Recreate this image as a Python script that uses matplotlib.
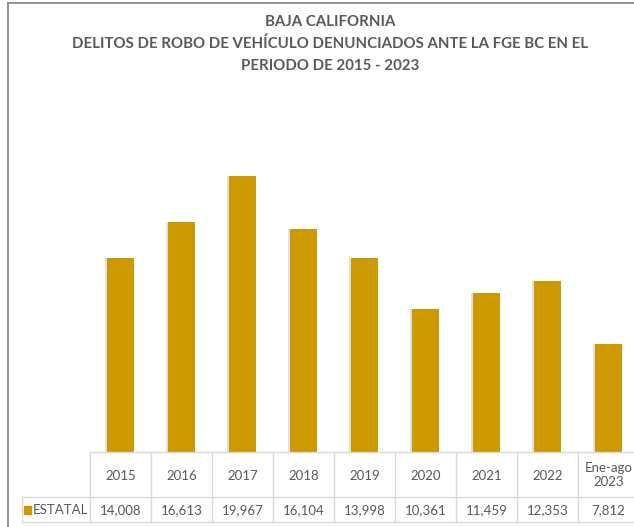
#!/usr/bin/env python3
"""Vehicle theft reports, Baja California 2015-2023, bar chart with data table."""

import matplotlib
matplotlib.use("Agg")
import matplotlib.pyplot as plt
from matplotlib.lines import Line2D
from matplotlib.patches import Rectangle

periods = ["2015", "2016", "2017", "2018", "2019", "2020", "2021", "2022", "Ene-ago\n2023"]
estatal = [14008, 16613, 19967, 16104, 13998, 10361, 11459, 12353, 7812]
series_name = "ESTATAL"
title = ("BAJA CALIFORNIA\n"
         "DELITOS DE ROBO DE VEHÍCULO DENUNCIADOS ANTE LA FGE BC EN EL\n"
         "PERIODO DE 2015 - 2023")

BAR_COLOR = "#CC9900"
TEXT_COLOR = "#595959"
GRID_COLOR = "#D9D9D9"
W, H = 634, 527

plt.rcParams["font.family"] = ["Lato", "DejaVu Sans"]

fig = plt.figure(figsize=(W / 100, H / 100), dpi=100)

# plot area in pixel coords: columns start at x=90, each 61 px wide
col_w = 61
x0, base_y, top_y = 90, 452, 106
ax = fig.add_axes([x0 / W, (H - base_y) / H, len(periods) * col_w / W, (base_y - top_y) / H])
ax.set_xlim(0, len(periods))
ax.set_ylim(0, 25000)
ax.axis("off")

xs = [i + 0.5 for i in range(len(periods))]
ax.bar(xs, estatal, width=0.45, color=BAR_COLOR, zorder=3)
# soft shadow on the left edge of the bars
ax.bar([x - 0.035 for x in xs], estatal, width=0.45, color="#000000", alpha=0.12, zorder=2)

# data table drawn in figure pixel coords
def fx(px):
    return px / W


def fy(py):
    return 1 - py / H


row1, row2, row3 = 452, 497, 522
lines = []
for i in range(len(periods) + 1):
    xp = x0 + i * col_w
    lines.append(((xp, xp), (row1, row3)))
lines.append(((22, 22), (row2, row3)))
lines.append(((x0, x0 + len(periods) * col_w), (row1, row1)))
lines.append(((22, x0 + len(periods) * col_w), (row2, row2)))
lines.append(((22, x0 + len(periods) * col_w), (row3, row3)))
for (xa, xb), (ya, yb) in lines:
    fig.add_artist(Line2D([fx(xa), fx(xb)], [fy(ya), fy(yb)], color=GRID_COLOR, lw=1.0))

for i, (p, v) in enumerate(zip(periods, estatal)):
    cx = x0 + (i + 0.5) * col_w
    fig.text(fx(cx), fy((row1 + row2) / 2 + 1), p, ha="center", va="center",
             fontsize=9.5, color=TEXT_COLOR, linespacing=1.2)
    fig.text(fx(cx), fy((row2 + row3) / 2 + 1), f"{v:,}", ha="center", va="center",
             fontsize=9.5, color=TEXT_COLOR)

fig.add_artist(Rectangle((fx(24), fy(514)), 7 / W, 8 / H, color=BAR_COLOR, transform=fig.transFigure))
fig.text(fx(33), fy((row2 + row3) / 2 + 1), series_name, ha="left", va="center",
         fontsize=9.5, color=TEXT_COLOR)

# outer chart frame (left and top edges)
fig.add_artist(Line2D([fx(8), fx(8)], [fy(3), fy(527)], color="#7F7F7F", lw=1.2))
fig.add_artist(Line2D([fx(8), fx(634)], [fy(3), fy(3)], color="#7F7F7F", lw=1.2))

fig.text(fx(330), fy(44), title, ha="center", va="center", fontsize=10.8,
         fontweight="bold", color=TEXT_COLOR, linespacing=1.7)

fig.savefig("out.png", dpi=100)
